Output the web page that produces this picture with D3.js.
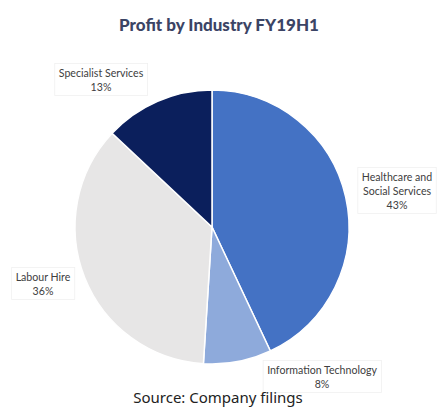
<!DOCTYPE html>
<html>
<head>
<meta charset="utf-8">
<script src="https://cdn.jsdelivr.net/npm/d3@7"></script>
<style>
  body { margin: 0; background: #fff; }
  svg { display: block; }
</style>
</head>
<body>
<div id="vis"></div>
<script>
const FRAME_WIDTH = 437;
const FRAME_HEIGHT = 408;
const CENTER = {x: 212, y: 227};
const RADIUS = 137;

// data
const industries = ["Healthcare and\nSocial Services", "Information Technology", "Labour Hire", "Specialist Services"];
const shares = [43, 8, 36, 13];
const shareLabels = ["43%", "8%", "36%", "13%"];

const COLORS = ["#4472c4", "#8eaadb", "#e7e6e6", "#0b1f5c"];
// label anchor offsets from pie centre (layout only)
const LABEL_OFFSETS = [[185, -36], [110, 150], [-169, 57], [-111, -147]];

const FRAME = d3.select("#vis")
  .append("svg")
    .attr("width", FRAME_WIDTH)
    .attr("height", FRAME_HEIGHT);

// title
FRAME.append("text")
  .attr("x", 219)
  .attr("y", 31)
  .attr("text-anchor", "middle")
  .attr("font-family", "Lato")
  .attr("font-weight", "900")
  .attr("font-size", "17px")
  .attr("fill", "#3b4465")
  .text("Profit by Industry FY19H1");

const pie = d3.pie().sort(null).value((d) => d);
const arc = d3.arc().innerRadius(0).outerRadius(RADIUS);

const G = FRAME.append("g")
  .attr("transform", "translate(" + CENTER.x + "," + CENTER.y + ")");

G.selectAll("path")
  .data(pie(shares))
  .enter()
  .append("path")
    .attr("d", arc)
    .attr("fill", (d, i) => COLORS[i])
    .attr("stroke", "#fff")
    .attr("stroke-width", 1.5);

// data labels
const LINE_H = 14;
industries.forEach((name, i) => {
  const lines = name.split("\n").concat([shareLabels[i]]);
  const [ox, oy] = LABEL_OFFSETS[i];
  const lab = G.append("g").attr("transform", "translate(" + ox + "," + oy + ")");
  const t = lab.append("text")
    .attr("text-anchor", "middle")
    .attr("font-family", "Lato")
    .attr("font-size", "10.6px")
    .attr("fill", "#404040");
  lines.forEach((ln, j) => {
    t.append("tspan")
      .attr("x", 0)
      .attr("y", (j - (lines.length - 1) / 2) * LINE_H + 3.5)
      .text(ln);
  });
  const bb = t.node().getBBox();
  lab.insert("rect", "text")
    .attr("x", bb.x - 4)
    .attr("y", bb.y - 3)
    .attr("width", bb.width + 8)
    .attr("height", bb.height + 6)
    .attr("fill", "#fff")
    .attr("stroke", "#f0f0f0")
    .attr("stroke-width", 0.8);
});

// source
FRAME.append("text")
  .attr("x", 218)
  .attr("y", 403)
  .attr("text-anchor", "middle")
  .attr("font-family", "Noto Sans")
  .attr("font-size", "15px")
  .attr("fill", "#222")
  .text("Source: Company filings");
</script>
</body>
</html>
